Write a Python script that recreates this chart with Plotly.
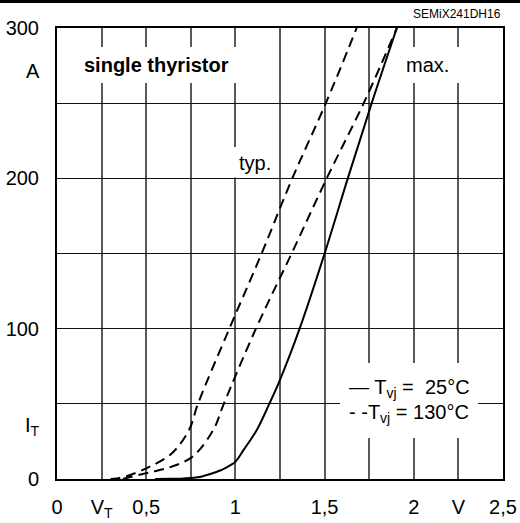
import plotly.graph_objects as go

# Forward characteristic data (V_T in V, I_T in A)
v_25 = [0.55, 0.65, 0.71, 0.80, 0.84, 0.90, 0.93, 0.97, 1.00, 1.05, 1.12, 1.19, 1.25, 1.36, 1.50, 1.63, 1.764, 1.905]
i_25 = [0, 0.2, 0.4, 1.3, 2.7, 5.0, 6.4, 9.0, 11.5, 20, 32.6, 50, 66, 100, 150, 200, 250, 300]

v_130_typ = [0.30, 0.335, 0.41, 0.52, 0.643, 0.74, 0.79, 0.966, 1.147, 1.319, 1.507, 1.68]
i_130_typ = [0, 0.3, 2.7, 8.2, 17, 32.6, 50, 100, 150, 200, 250, 300]

v_130_max = [0.37, 0.41, 0.52, 0.643, 0.76, 0.876, 0.935, 1.115, 1.315, 1.512, 1.727, 1.905]
i_130_max = [0, 1.3, 4.4, 8.2, 14.9, 32.6, 50, 100, 150, 200, 252, 300]

x_tickvals = [0, 0.25, 0.5, 0.75, 1.0, 1.25, 1.5, 1.75, 2.0, 2.25, 2.5]
x_ticktext = ["0", "V<sub>T</sub>", "0,5", "", "1", "", "1,5", "", "2", "V", "2,5"]
y_tickvals = [0, 50, 100, 150, 200, 250, 300]
y_ticktext = ["0", "", "100", "", "200", "", "300"]

FONT = "Liberation Sans, Arial, Helvetica, sans-serif"

fig = go.Figure()
fig.add_trace(go.Scatter(x=v_25, y=i_25, mode="lines", line=dict(color="black", width=2), line_shape="spline"))
fig.add_trace(go.Scatter(x=v_130_typ, y=i_130_typ, mode="lines", line=dict(color="black", width=2, dash="10px,6px"), line_shape="spline"))
fig.add_trace(go.Scatter(x=v_130_max, y=i_130_max, mode="lines", line=dict(color="black", width=2, dash="10px,6px"), line_shape="spline"))

# white label backgrounds (between grid and curves)
boxes = [
    (0.03, 1.13, 263.4, 287.4),
    (1.895, 2.438, 263.4, 287.4),
    (0.975, 1.228, 200.5, 220.8),
    (1.586, 2.36, 27.3, 77.2),
]
for x0, x1, y0, y1 in boxes:
    fig.add_shape(type="rect", xref="x", yref="y", x0=x0, x1=x1, y0=y0, y1=y1,
                  fillcolor="white", line=dict(width=0), layer="between")

# top rule across the page, positioned in pixels above the plot top
fig.add_shape(type="rect", xref="paper", yref="paper", ysizemode="pixel", yanchor=1,
              x0=-0.13, x1=1.04, y0=25, y1=28,
              fillcolor="black", line=dict(width=0), layer="above")

ann = dict(showarrow=False, font=dict(family=FONT, size=20, color="black"))
fig.add_annotation(x=0.56, y=275.5, xref="x", yref="y", text="<b>single thyristor</b>", **ann)
fig.add_annotation(x=2.078, y=275.5, xref="x", yref="y", text="max.", **ann)
fig.add_annotation(x=1.11, y=210.5, xref="x", yref="y", text="typ.", **ann)
fig.add_annotation(x=1.626, y=60.5, xref="x", yref="y", xanchor="left", text="— T<sub>vj</sub> =  25°C", **ann)
fig.add_annotation(x=1.626, y=43.9, xref="x", yref="y", xanchor="left", text="- -T<sub>vj</sub> = 130°C", **ann)
fig.add_annotation(x=-0.0336, y=271.5, xref="paper", yref="y", xanchor="right", text="A", **ann)
fig.add_annotation(x=-0.0336, y=35, xref="paper", yref="y", xanchor="right", text="I<sub>T</sub>", **ann)
fig.add_annotation(x=1.0, y=1.0, xref="paper", yref="paper", xanchor="right", yanchor="bottom", yshift=5,
                   text="SEMiX241DH16", showarrow=False, font=dict(family=FONT, size=12, color="black"))

fig.update_layout(
    width=520, height=523,
    margin=dict(l=57, r=17, t=28, b=44, autoexpand=False),
    paper_bgcolor="white", plot_bgcolor="white",
    showlegend=False,
    font=dict(family=FONT, size=20, color="black"),
)
fig.update_xaxes(range=[0, 2.5], tickvals=x_tickvals, ticktext=x_ticktext, automargin=False,
                 showgrid=True, gridcolor="#5a5a5a", gridwidth=1.5,
                 showline=True, linecolor="black", linewidth=2, mirror=True,
                 ticks="", ticklabelstandoff=9, zeroline=False,
                 tickfont=dict(family=FONT, size=20, color="black"))
fig.update_yaxes(range=[0, 300], tickvals=y_tickvals, ticktext=y_ticktext, automargin=False,
                 showgrid=True, gridcolor="#111111", gridwidth=1.2,
                 showline=True, linecolor="black", linewidth=2, mirror=True,
                 ticks="", ticklabelstandoff=12, zeroline=False,
                 tickfont=dict(family=FONT, size=20, color="black"))

fig.write_html("out.html", config={"displayModeBar": False},
               post_script="document.body.style.margin='0';document.body.style.overflow='hidden';")
